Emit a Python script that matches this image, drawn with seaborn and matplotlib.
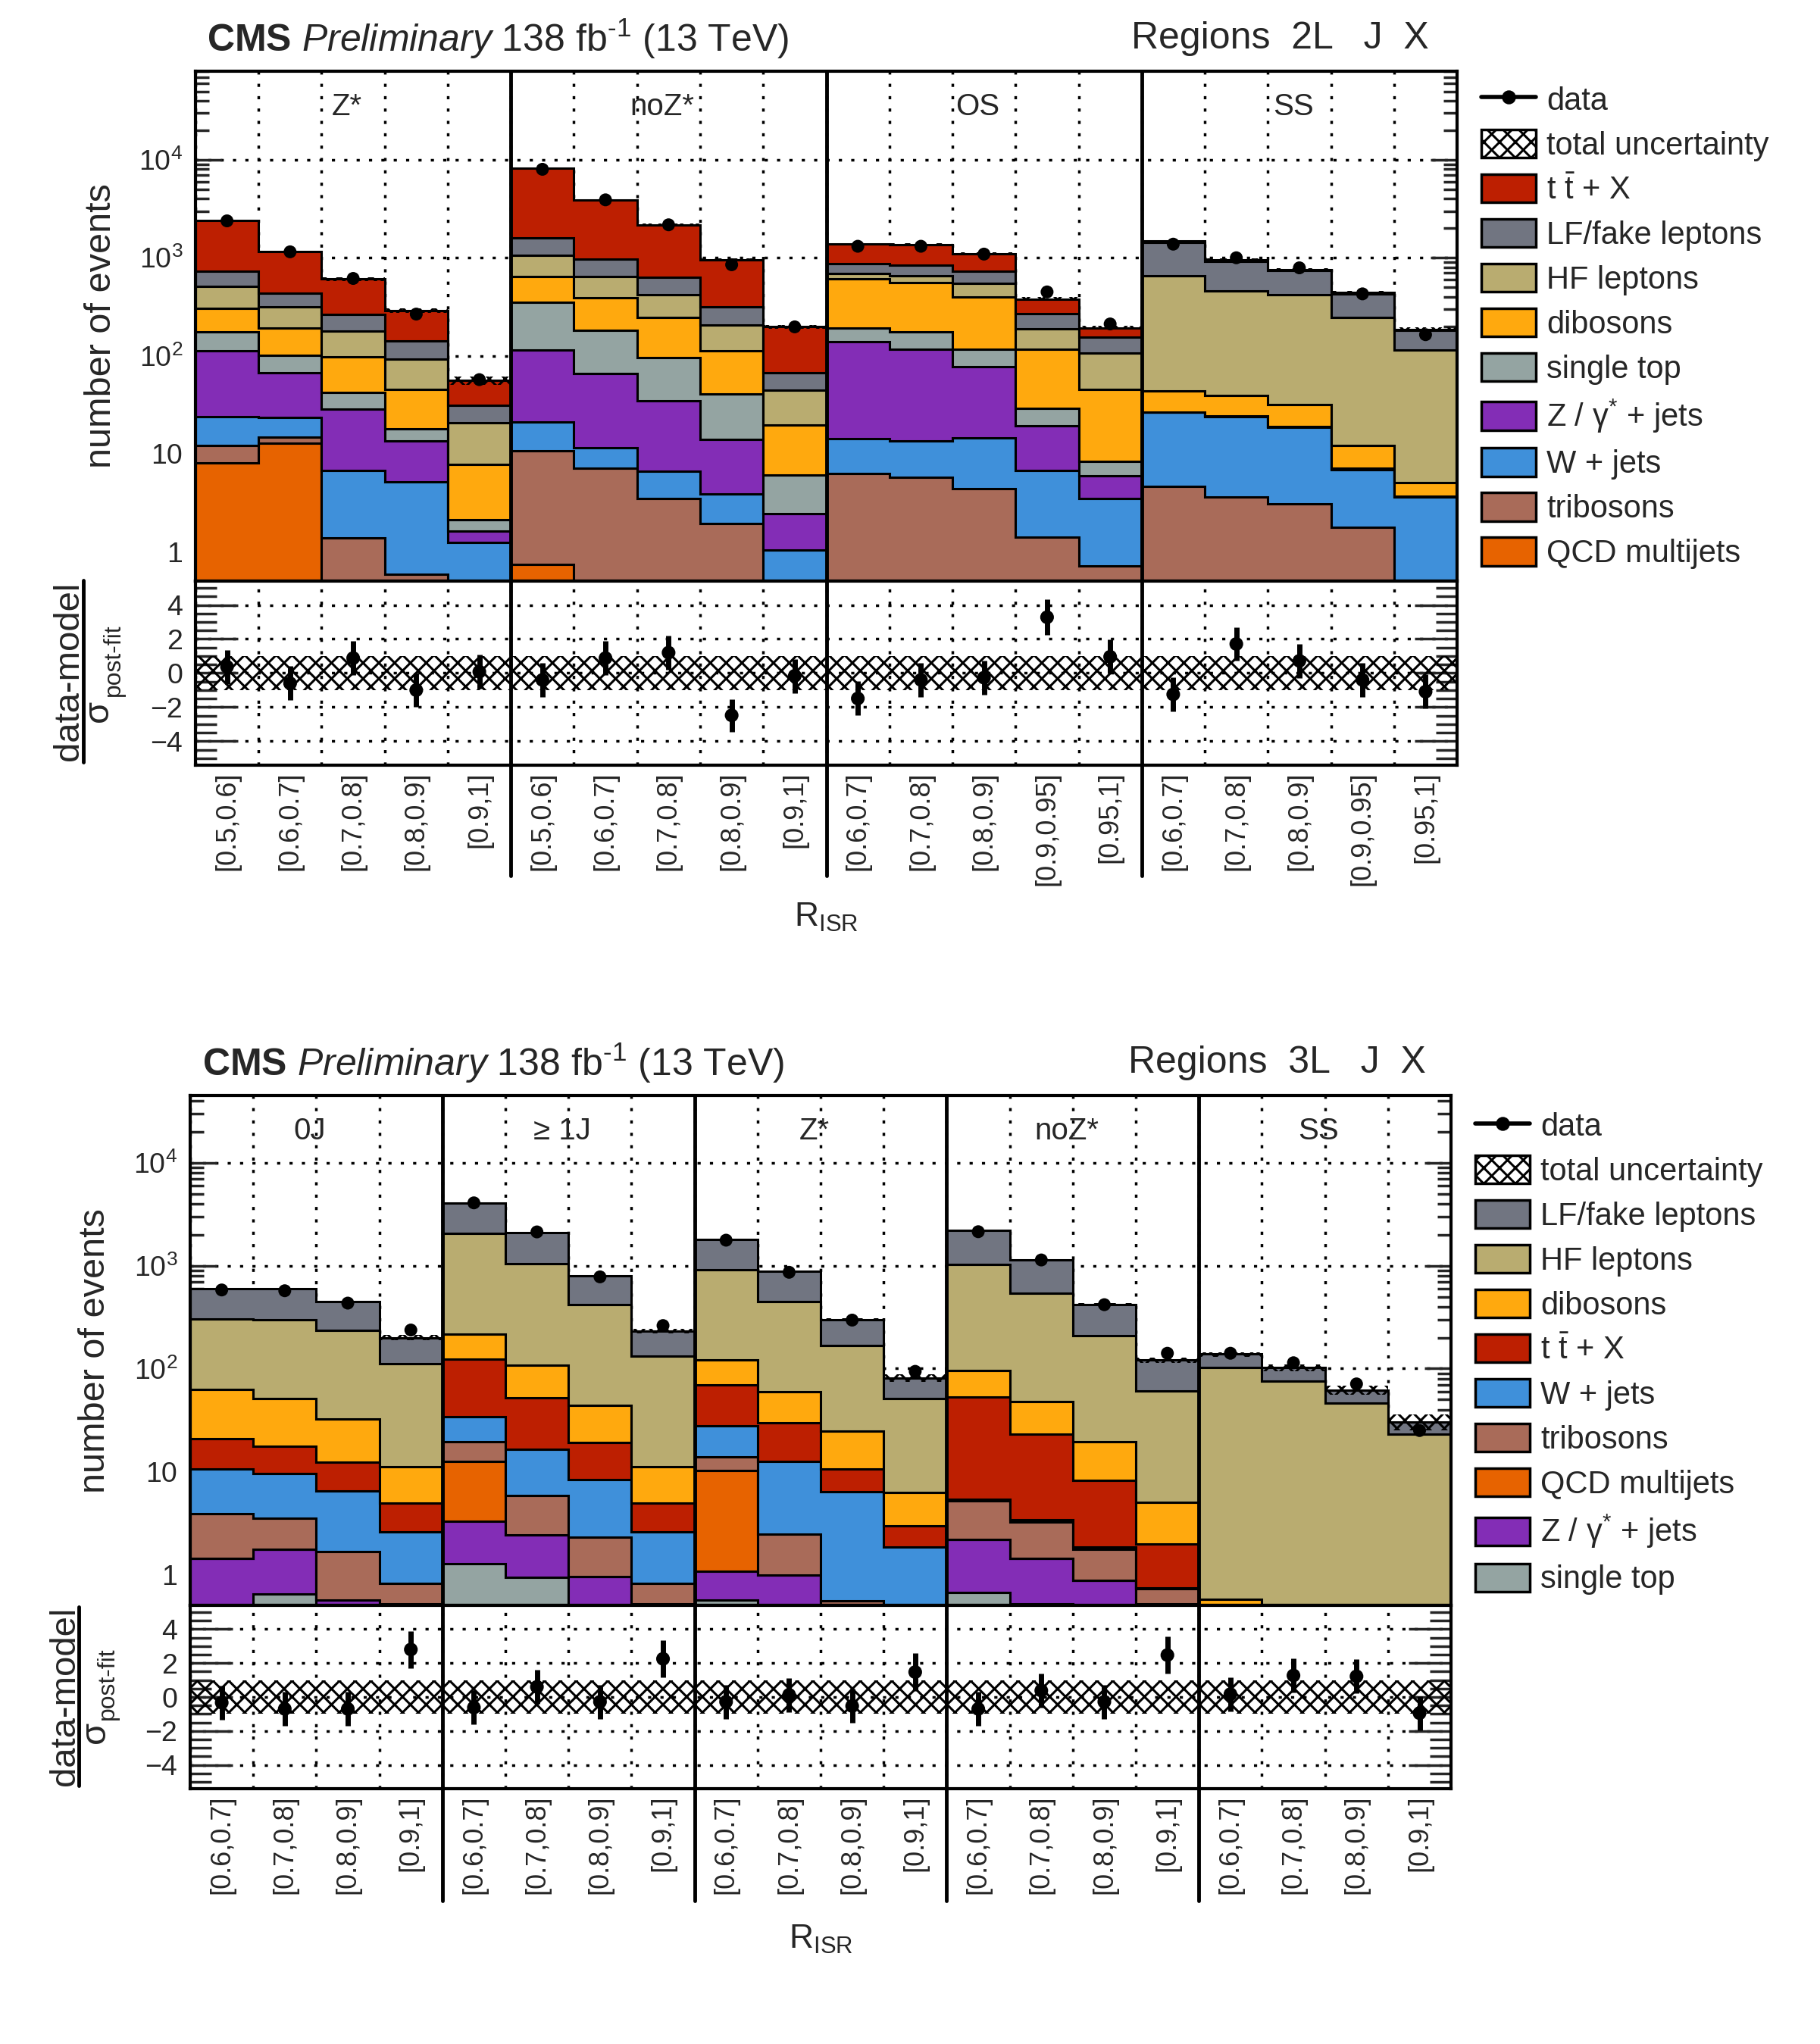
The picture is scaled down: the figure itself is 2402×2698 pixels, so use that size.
import numpy as np
import matplotlib
matplotlib.use("Agg")
import matplotlib.pyplot as plt
from matplotlib.patches import Patch
from matplotlib.lines import Line2D
from matplotlib.ticker import FixedLocator, LogLocator, MultipleLocator, FuncFormatter, NullFormatter
import seaborn as sns

# ---------------- 2L regions (upper plot) ----------------
regions_2l = ['Z*', 'noZ*', 'OS', 'SS']
bins_2l = ['[0.5,0.6]', '[0.6,0.7]', '[0.7,0.8]', '[0.8,0.9]', '[0.9,1]',
           '[0.5,0.6]', '[0.6,0.7]', '[0.7,0.8]', '[0.8,0.9]', '[0.9,1]',
           '[0.6,0.7]', '[0.7,0.8]', '[0.8,0.9]', '[0.9,0.95]', '[0.95,1]',
           '[0.6,0.7]', '[0.7,0.8]', '[0.8,0.9]', '[0.9,0.95]', '[0.95,1]']

# yields per process, listed from bottom of the stack to the top
qcd_2l = [8.0, 12.7, 0, 0, 0, 0.74, 0, 0, 0, 0, 0, 0, 0, 0, 0, 0, 0, 0, 0, 0]
tribosons_2l = [4.1, 2.1, 1.38, 0.59, 0, 9.9, 7.1, 3.47, 1.95, 0,
                6.3, 5.7, 4.4, 1.4, 0.71, 4.6, 3.6, 3.08, 1.78, 0]
wjets_2l = [11.9, 8.8, 5.3, 4.6, 1.23, 10.4, 4.3, 3.13, 1.92, 1.03,
            7.9, 7.9, 10.2, 5.3, 2.79, 21.8, 20.4, 15.5, 5.1, 3.6]
zjets_2l = [88, 43.4, 21.9, 8.4, 0.39, 93, 54.6, 28.1, 10.0, 1.42,
            124.8, 102.4, 62.4, 12.4, 2.4, 0.2, 0.4, 0.4, 0.2, 0.1]
singletop_2l = [64, 34, 13.8, 4.5, 0.51, 239, 117, 61.3, 26.9, 3.55,
                52, 59, 39, 9.7, 2.5, 0, 0, 0, 0, 0]
dibosons_2l = [129, 92, 54.6, 27.5, 5.57, 292, 211, 151, 71.2, 13.5,
               414, 387, 281, 87.2, 37.2, 16.9, 14.6, 12.9, 5.0, 1.4]
hf_2l = [203, 123, 81, 47.4, 12.9, 422, 246, 169, 94, 24.8,
         82, 94, 150, 72, 60.4, 612, 421, 388, 235, 109]
lf_2l = [225, 119, 86, 49, 10.4, 541, 333, 212, 110, 22.7,
         177, 177, 179, 83, 50, 786, 452, 320, 181, 66]
ttx_2l = [1649, 713, 341, 146, 25, 6572, 2927, 1527, 639, 130,
          513, 531, 370, 109, 37, 38, 43, 14, 12, 5]
data_2l = [2380, 1150, 615, 266, 57, 8000, 3900, 2170, 849, 197,
           1310, 1310, 1090, 448, 211, 1377, 1000, 789, 428, 164]
unc_2l = [0.03, 0.03, 0.04, 0.05, 0.10, 0.02, 0.02, 0.03, 0.04, 0.05,
          0.03, 0.03, 0.03, 0.04, 0.05, 0.03, 0.03, 0.03, 0.04, 0.05]
pull_2l = [0.37, -0.6, 0.88, -1.0, 0.08, -0.4, 0.88, 1.2, -2.48, -0.16,
           -1.49, -0.4, -0.27, 3.28, 0.96, -1.25, 1.71, 0.72, -0.4, -1.09]
pull_err_2l = [1.0, 1.0, 1.0, 1.0, 1.0, 1.0, 1.0, 1.0, 0.95, 1.0,
               1.0, 1.0, 1.0, 1.05, 1.0, 1.0, 1.0, 1.0, 1.0, 1.0]

# ---------------- 3L regions (lower plot) ----------------
regions_3l = ['0J', '\u2265 1J', 'Z*', 'noZ*', 'SS']
bins_3l = ['[0.6,0.7]', '[0.7,0.8]', '[0.8,0.9]', '[0.9,1]'] * 5

singletop_3l = [0, 0.64, 0, 0, 1.26, 0.93, 0, 0, 0.56, 0, 0, 0, 0.67, 0.52, 0, 0, 0, 0, 0, 0]
zjets_3l = [1.43, 1.10, 0.56, 0.52, 2.0, 1.48, 0.95, 0.52, 0.52, 0.99, 0, 0,
            1.52, 0.91, 0.87, 0.52, 0, 0, 0, 0]
qcd_3l = [0, 0, 0, 0, 9.34, 0, 0, 0, 9.12, 0, 0, 0, 0, 0, 0, 0, 0, 0, 0, 0]
tribosons_3l = [2.44, 1.78, 1.10, 0.29, 6.8, 3.39, 1.34, 0.29, 3.6, 1.46, 0.55, 0,
                3.01, 1.8, 0.87, 0.21, 0, 0, 0, 0]
wjets_3l = [6.73, 5.98, 4.84, 1.79, 14.6, 10.5, 6.11, 1.79, 14.2, 10.15, 5.85, 1.85,
            0.2, 0.17, 0.11, 0.01, 0, 0, 0, 0]
ttx_3l = [10.2, 8.0, 5.8, 2.37, 90, 35.7, 10.7, 2.37, 41, 17.3, 4.2, 1.11,
          47.6, 19.6, 6.35, 1.24, 0, 0, 0, 0]
dibosons_3l = [42.2, 33.5, 20.3, 6.13, 93, 55, 24.9, 6.13, 52, 30.1, 13.9, 3.24,
               43, 25, 11.2, 3.02, 0.57, 0, 0, 0]
hf_3l = [238, 248, 204, 101, 1829, 945, 378, 122, 797, 392, 143.5, 44.8,
         930, 489, 188.6, 56, 101.4, 76, 46, 23]
lf_3l = [300, 297, 208, 88, 2034, 1048, 370, 98, 880, 427, 131, 30,
         1164, 600, 214, 60, 36, 26, 16, 7.4]
data_3l = [581, 571, 433, 237, 4080, 2130, 779, 262, 1770, 863, 296, 94,
           2140, 1137, 418, 141, 141, 114, 71, 25]
unc_3l = [0.02, 0.02, 0.03, 0.06, 0.02, 0.02, 0.03, 0.05, 0.02, 0.03, 0.04, 0.08,
          0.02, 0.02, 0.03, 0.06, 0.05, 0.07, 0.10, 0.18]
pull_3l = [-0.33, -0.7, -0.7, 2.8, -0.62, 0.6, -0.28, 2.25, -0.28, 0.13, -0.53, 1.47,
           -0.7, 0.38, -0.28, 2.47, 0.17, 1.27, 1.22, -0.95]
pull_err_3l = [1.0, 1.0, 1.0, 1.1, 1.0, 1.0, 1.0, 1.1, 1.0, 1.0, 1.0, 1.1,
               1.0, 1.0, 1.0, 1.1, 1.0, 1.0, 1.0, 1.0]

colors = {'ttx': '#bd1f01', 'lf': '#717581', 'hf': '#b9ac70', 'dibosons': '#ffa90e',
          'singletop': '#94a4a2', 'zjets': '#832db6', 'wjets': '#3f90da',
          'tribosons': '#a96b59', 'qcd': '#e76300'}
names = {'ttx': r't $\bar{\mathrm{t}}$ + X', 'lf': 'LF/fake leptons', 'hf': 'HF leptons',
         'dibosons': 'dibosons', 'singletop': 'single top', 'zjets': r'Z / $\mathrm{\gamma}^{*}$ + jets',
         'wjets': 'W + jets', 'tribosons': 'tribosons', 'qcd': 'QCD multijets'}

stack_2l = [('qcd', qcd_2l), ('tribosons', tribosons_2l), ('wjets', wjets_2l),
            ('zjets', zjets_2l), ('singletop', singletop_2l), ('dibosons', dibosons_2l),
            ('hf', hf_2l), ('lf', lf_2l), ('ttx', ttx_2l)]
stack_3l = [('singletop', singletop_3l), ('zjets', zjets_3l), ('qcd', qcd_3l),
            ('tribosons', tribosons_3l), ('wjets', wjets_3l), ('ttx', ttx_3l),
            ('dibosons', dibosons_3l), ('hf', hf_3l), ('lf', lf_3l)]

# the figure is rendered at 125 dpi so that the hatch cells get the reference size;
# every size below is given as if at 100 dpi and scaled by K
DPI = 125
K = 100 / DPI

sns.set_style("ticks")
plt.rcParams['font.family'] = ['Liberation Sans', 'DejaVu Sans']
plt.rcParams['mathtext.fontset'] = 'custom'
plt.rcParams['mathtext.rm'] = 'Liberation Sans'
plt.rcParams['mathtext.it'] = 'Liberation Sans:italic'
plt.rcParams['mathtext.bf'] = 'Liberation Sans:bold'
plt.rcParams['hatch.linewidth'] = 2.2 * K
plt.rcParams['axes.unicode_minus'] = True

W, H = 2402, 2698
fig = plt.figure(figsize=(W / DPI, H / DPI), dpi=DPI)
dots = (0, (1.2, 3.5))


def logfmt(v, pos):
    if abs(v - 1) < 1e-9:
        return '1'
    if abs(v - 10) < 1e-9:
        return '10'
    return r'$10^{%d}$' % round(np.log10(v))


def draw(ax, rax, stack, data, rel_unc, pulls, pull_err, regions, labels, ylim, sep_len):
    n = len(data)
    edges = np.arange(n + 1)
    centers = edges[:-1] + 0.5
    nper = n // len(regions)

    base = np.full(n, 1e-3)
    for key, vals in stack:
        top = base + np.asarray(vals, float)
        ax.stairs(top, edges, baseline=base, fill=True, facecolor=colors[key],
                  edgecolor='black', linewidth=2.2 * K, zorder=2)
        base = top
    total = base
    unc = np.asarray(rel_unc)
    ax.stairs(total * (1 + unc), edges, baseline=total * (1 - unc), fill=True,
              facecolor='none', edgecolor='black', hatch='xx', linewidth=0, zorder=3)
    sns.scatterplot(x=centers, y=data, ax=ax, color='black', s=150 * K * K, edgecolor='none',
                    zorder=4, legend=False)

    ax.set_yscale('log')
    ax.set_xlim(0, n)
    ax.set_ylim(*ylim)
    ax.xaxis.set_major_locator(FixedLocator(edges))
    ax.xaxis.set_major_formatter(NullFormatter())
    ax.yaxis.set_major_locator(FixedLocator([1, 10, 100, 1e3, 1e4]))
    ax.yaxis.set_major_formatter(FuncFormatter(logfmt))
    ax.yaxis.set_minor_locator(LogLocator(base=10, subs=np.arange(2, 10), numticks=30))
    ax.yaxis.set_minor_formatter(NullFormatter())
    ax.tick_params(axis='x', length=0)
    ax.tick_params(axis='y', which='major', direction='in', left=True, right=True,
                   length=25 * K, width=2.5 * K, labelsize=27 * K, pad=12 * K)
    ax.tick_params(axis='y', which='minor', direction='in', left=True, right=True,
                   length=13 * K, width=2.5 * K)
    ax.grid(True, which='major', color='black', linestyle=dots, linewidth=2.5 * K)
    ax.set_axisbelow(True)

    # pull panel
    rax.fill_between(edges, -1, 1, facecolor='none', edgecolor='black', hatch='xx',
                     linewidth=0, zorder=2)
    rax.errorbar(centers, pulls, yerr=pull_err, fmt='none', ecolor='black',
                 elinewidth=5 * K, capsize=0, zorder=4)
    sns.scatterplot(x=centers, y=pulls, ax=rax, color='black', s=170 * K * K, edgecolor='none',
                    zorder=5, legend=False)
    rax.set_xlim(0, n)
    rax.set_ylim(-5.4, 5.4)
    rax.set_xticks(centers)
    rax.set_xticklabels(labels, rotation=90, fontsize=26 * K)
    rax.set_xticks(edges, minor=True)
    rax.tick_params(axis='x', which='both', length=0, pad=6 * K)
    rax.set_yticks([-4, -2, 0, 2, 4])
    rax.set_yticklabels(['\u22124', '\u22122', '0', '2', '4'])
    rax.yaxis.set_minor_locator(MultipleLocator(0.5))
    rax.tick_params(axis='y', which='major', direction='in', left=True, right=True,
                    length=40 * K, width=2.5 * K, labelsize=27 * K, pad=12 * K)
    rax.tick_params(axis='y', which='minor', direction='in', left=True, right=True,
                    length=20 * K, width=2.5 * K)
    rax.grid(True, axis='y', which='major', color='black', linestyle=dots, linewidth=2.5 * K)
    rax.grid(True, axis='x', which='minor', color='black', linestyle=dots, linewidth=2.5 * K)
    rax.set_axisbelow(True)

    for a in (ax, rax):
        for s in a.spines.values():
            s.set_linewidth(3 * K)
            s.set_color('black')
            s.set_zorder(7)

    for k in range(len(regions)):
        ax.text((k + 0.5) * nper - 0.1, 0.93, regions[k], transform=ax.get_xaxis_transform(),
                ha='center', va='center', fontsize=29 * K, zorder=8)
        if k > 0:
            b = k * nper
            ax.axvline(b, color='black', lw=3.5 * K, zorder=6)
            rax.plot([b, b], [-sep_len, 1], transform=rax.get_xaxis_transform(),
                     color='black', lw=3.5 * K, clip_on=False, zorder=6)


def fx(x):
    return x / W


def fy(y):
    return 1 - y / H


def ratio_label(x_num, x_line, x_sig, x_sub, y_c, y_sig, y_sub, half):
    fig.text(fx(x_num), fy(y_c), 'data-model', rotation=90, ha='center', va='center',
             fontsize=34 * K)
    fig.add_artist(Line2D([fx(x_line)] * 2, [fy(y_c - half), fy(y_c + half)],
                          color='black', lw=3.5 * K, transform=fig.transFigure))
    fig.text(fx(x_sig), fy(y_sig), '\u03c3', rotation=90, ha='center', va='center',
             fontsize=34 * K)
    fig.text(fx(x_sub), fy(y_sub), 'post-fit', rotation=90, ha='center', va='center',
             fontsize=23 * K)


def legend(order, anchor):
    handles = [Line2D([0], [0], color='black', marker='o', markersize=12 * K, lw=4 * K),
               Patch(facecolor='white', edgecolor='black', hatch='xx', linewidth=2.5 * K)]
    texts = ['data', 'total uncertainty']
    for key in order:
        handles.append(Patch(facecolor=colors[key], edgecolor='black', linewidth=2.5 * K))
        texts.append(names[key])
    fig.legend(handles, texts, loc='upper left', bbox_to_anchor=anchor, frameon=False,
               fontsize=30 * K, handlelength=1.73, handleheight=1.0, handletextpad=0.34,
               labelspacing=0.41, borderpad=0, borderaxespad=0)


title = r'$\mathbf{CMS}$ $\mathit{Preliminary}$ 138 fb$^{\text{-}1}$ (13 TeV)'

# upper plot
ax1 = fig.add_axes([0.1074, 0.7157, 0.6932, 0.2494])
rax1 = fig.add_axes([0.1074, 0.6257, 0.6932, 0.0900])
draw(ax1, rax1, stack_2l, data_2l, unc_2l, pull_2l, pull_err_2l, regions_2l, bins_2l,
     (0.5, 8e4), 0.60)
legend([k for k, _ in stack_2l][::-1], (0.8139, 0.9585))
fig.text(fx(273), fy(51), title, ha='left', va='center', fontsize=36 * K)
fig.text(fx(1886), fy(51), 'Regions  2L   J  X', ha='right', va='center', fontsize=36 * K)
fig.text(fx(133), fy(430), 'number of events', rotation=90, ha='center', va='center',
         fontsize=35 * K)
ratio_label(91, 110, 130, 150, 886, 938, 871, 120)
fig.text(fx(1090), fy(1211), r'R$_{\mathrm{ISR}}$', ha='center', va='center', fontsize=32 * K)

# lower plot
ax2 = fig.add_axes([0.1045, 0.2146, 0.6928, 0.2494])
rax2 = fig.add_axes([0.1045, 0.1249, 0.6928, 0.0897])
draw(ax2, rax2, stack_3l, data_3l, unc_3l, pull_3l, pull_err_3l, regions_3l, bins_3l,
     (0.5, 4.5e4), 0.61)
legend([k for k, _ in stack_3l][::-1], (0.8106, 0.4566))
fig.text(fx(267), fy(1403), title, ha='left', va='center', fontsize=36 * K)
fig.text(fx(1882), fy(1403), 'Regions  3L   J  X', ha='right', va='center', fontsize=36 * K)
fig.text(fx(126), fy(1783), 'number of events', rotation=90, ha='center', va='center',
         fontsize=35 * K)
ratio_label(86, 104, 126, 142, 2239, 2286, 2222, 118)
fig.text(fx(1083), fy(2560), r'R$_{\mathrm{ISR}}$', ha='center', va='center', fontsize=32 * K)

fig.savefig('out.png', dpi=DPI)
